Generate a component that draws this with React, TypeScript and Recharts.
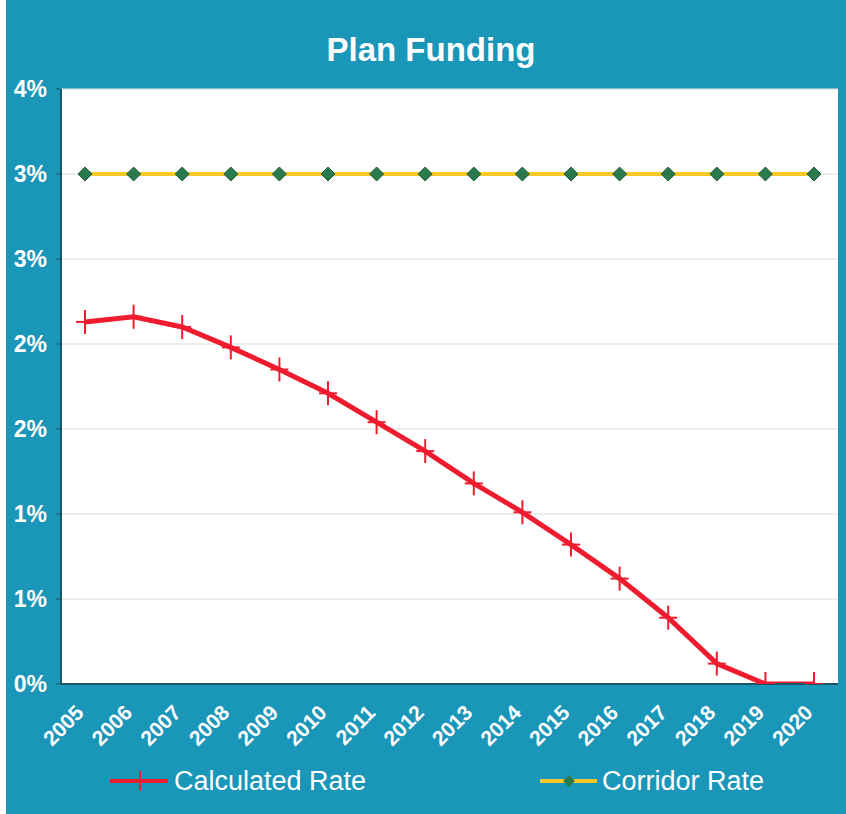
import React from 'react';
import { LineChart, Line, XAxis, YAxis, CartesianGrid, Legend } from 'recharts';

const years = ['2005','2006','2007','2008','2009','2010','2011','2012','2013','2014','2015','2016','2017','2018','2019','2020'];
const calculatedRate = [2.13, 2.16, 2.10, 1.98, 1.85, 1.71, 1.54, 1.37, 1.18, 1.01, 0.82, 0.62, 0.39, 0.12, 0, 0];
const corridorRate = [3.0, 3.0, 3.0, 3.0, 3.0, 3.0, 3.0, 3.0, 3.0, 3.0, 3.0, 3.0, 3.0, 3.0, 3.0, 3.0];
const yTicks = [0, 0.5, 1, 1.5, 2, 2.5, 3, 3.5];

const data = years.map((y, i) => ({ year: y, calc: calculatedRate[i], corr: corridorRate[i] }));

const BG = '#1a96b8';
const RED = '#ee1c2e';
const YELLOW = '#f7c82a';
const GREEN = '#2a7a4c';
const FONT = "Arial, 'Liberation Sans', sans-serif";

const CrossDot = (props: any) => {
  const { cx, cy } = props;
  if (cx == null || cy == null) return null;
  return (
    <g>
      <line x1={cx} y1={cy - 12} x2={cx} y2={cy + 12} stroke={RED} strokeWidth={2} />
      <line x1={cx - 9} y1={cy} x2={cx + 9} y2={cy} stroke={RED} strokeWidth={2} />
    </g>
  );
};

const DiamondDot = (props: any) => {
  const { cx, cy } = props;
  if (cx == null || cy == null) return null;
  const r = 7;
  return (
    <polygon
      points={`${cx},${cy - r} ${cx + r},${cy} ${cx},${cy + r} ${cx - r},${cy}`}
      fill={GREEN}
      stroke="#1f5e3a"
      strokeWidth={1}
    />
  );
};

const XTick = (props: any) => {
  const { x, y, payload } = props;
  return (
    <g transform={`translate(${x},${y + 22})`}>
      <text
        transform="rotate(-45)"
        textAnchor="end"
        fill="#ffffff"
        fontFamily={FONT}
        fontWeight="bold"
        fontSize={21}
      >
        {payload.value}
      </text>
    </g>
  );
};

const YTick = (props: any) => {
  const { y, payload } = props;
  return (
    <text
      x={47}
      y={y}
      textAnchor="end"
      dominantBaseline="central"
      fill="#ffffff"
      fontFamily={FONT}
      fontWeight="bold"
      fontSize={23}
    >
      {`${Math.round(payload.value)}%`}
    </text>
  );
};

const LegendContent = () => (
  <div style={{ height: 50, position: 'relative' }}>
    <svg width={846} height={50} style={{ position: 'absolute', left: 0, top: 0 }}>
      <line x1={110} y1={25} x2={168} y2={25} stroke={RED} strokeWidth={4} />
      <line x1={140} y1={15} x2={140} y2={35} stroke={RED} strokeWidth={2} />
      <line x1={540} y1={25} x2={597} y2={25} stroke={YELLOW} strokeWidth={4} />
      <polygon points="569,19 575,25 569,31 563,25" fill={GREEN} />
      <text x={174} y={25} dominantBaseline="central" fill="#fff" fontSize={27} fontFamily={FONT}>Calculated Rate</text>
      <text x={602} y={25} dominantBaseline="central" fill="#fff" fontSize={27} fontFamily={FONT}>Corridor Rate</text>
    </svg>
  </div>
);

export default function App() {
  return (
    <div style={{ position: 'absolute', left: 0, top: 0, width: 846, height: 814, background: '#ffffff' }}>
      <div style={{ position: 'absolute', left: 6, top: 0, width: 840, height: 814, background: BG }} />
      <div
        style={{
          position: 'absolute',
          left: 0,
          top: 32,
          width: 862,
          textAlign: 'center',
          color: '#fff',
          fontFamily: FONT,
          fontWeight: 'bold',
          fontSize: 33,
          lineHeight: '36px',
        }}
      >
        Plan Funding
      </div>
      <div style={{ position: 'absolute', left: 0, top: 0 }}>
        <LineChart width={846} height={814} data={data} margin={{ top: 89, right: 8, bottom: 8, left: 0 }}>
          <CartesianGrid vertical={false} stroke="#dcdcdc" fill="#ffffff" fillOpacity={1} />
          <XAxis
            dataKey="year"
            height={72}
            padding={{ left: 24, right: 24 }}
            tick={<XTick />}
            tickLine={false}
            axisLine={{ stroke: '#1d5566', strokeWidth: 2 }}
            interval={0}
          />
          <YAxis
            width={61}
            domain={[0, 3.5]}
            ticks={yTicks}
            tick={<YTick />}
            tickLine={{ stroke: '#1d5566' }}
            tickSize={5}
            axisLine={{ stroke: '#1d5566', strokeWidth: 2 }}
            allowDataOverflow
          />
          <Legend verticalAlign="bottom" height={50} content={<LegendContent />} wrapperStyle={{ left: 0, width: 846 }} />
          <Line
            type="linear"
            dataKey="corr"
            stroke={YELLOW}
            strokeWidth={4}
            dot={<DiamondDot />}
            isAnimationActive={false}
            name="Corridor Rate"
          />
          <Line
            type="linear"
            dataKey="calc"
            stroke={RED}
            strokeWidth={5}
            dot={<CrossDot />}
            isAnimationActive={false}
            name="Calculated Rate"
          />
        </LineChart>
      </div>
    </div>
  );
}
